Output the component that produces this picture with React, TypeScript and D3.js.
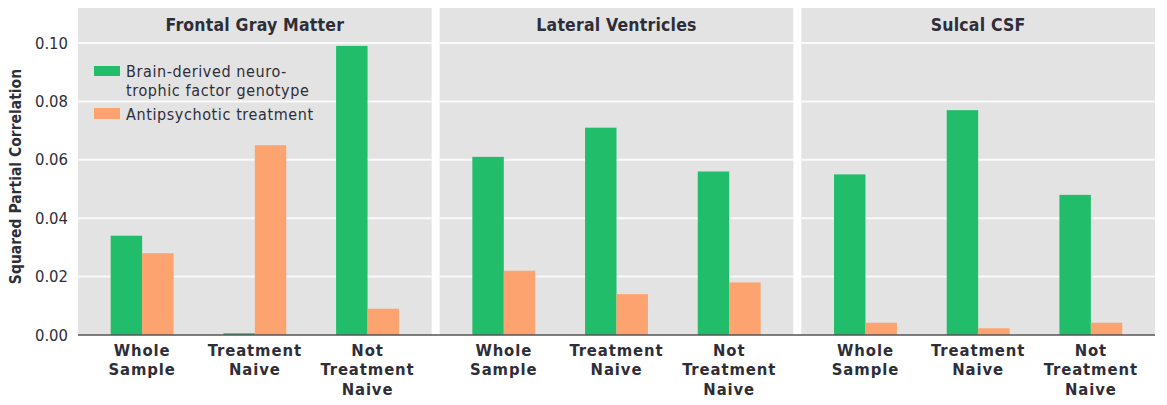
import React from "react";
import * as d3 from "d3";

const panels = ["Frontal Gray Matter", "Lateral Ventricles", "Sulcal CSF"];
const groups = ["Whole Sample", "Treatment Naive", "Not Treatment Naive"];
const groupLabelLines = [["Whole", "Sample"], ["Treatment", "Naive"], ["Not", "Treatment", "Naive"]];
const legendLines = [["Brain-derived neuro-", "trophic factor genotype"], ["Antipsychotic treatment"]];
const bdnfValues = [
  [0.034, 0.0006, 0.099],
  [0.061, 0.071, 0.056],
  [0.055, 0.077, 0.048],
];
const antipsychoticValues = [
  [0.028, 0.065, 0.009],
  [0.022, 0.014, 0.018],
  [0.0042, 0.0023, 0.0042],
];
const yTicks = [0, 0.02, 0.04, 0.06, 0.08, 0.1];

const W = 1167;
const H = 405;
const plotLeft = 78;
const plotRight = 1155;
const gap = 8;
const top = 8;
const baseY = 335;
const FONT = "'DejaVu Sans Condensed', 'DejaVu Sans', sans-serif";
const GREEN = "#21bd6b";
const ORANGE = "#fda36f";
const PANEL_BG = "#e3e3e3";
const TEXT = "#2e2e38";

export default function App() {
  const y = d3.scaleLinear().domain([0, 0.1]).range([baseY, 43]);
  const panelW = (plotRight - plotLeft - 2 * gap) / 3;
  const panelX = d3.scaleBand<number>().domain([0, 1, 2]).range([plotLeft, plotRight]).paddingInner(gap / (panelW + gap)).paddingOuter(0);
  const xGroup = d3.scaleBand<number>().domain([0, 1, 2]).range([0, panelX.bandwidth()]).paddingInner(0.442).paddingOuter(0.29);
  const xSeries = d3.scaleBand<number>().domain([0, 1]).range([0, xGroup.bandwidth()]);
  const seriesData = [bdnfValues, antipsychoticValues];
  const colors = [GREEN, ORANGE];

  return (
    <svg width={W} height={H} style={{ position: "absolute", left: 0, top: 0, background: "#fff" }} fontFamily={FONT} fontStretch="condensed">
      {panels.map((p, pi) => {
        const px = panelX(pi)!;
        const pw = panelX.bandwidth();
        return (
          <g key={p}>
            <rect x={px} y={top} width={pw} height={baseY - top} fill={PANEL_BG} />
            {yTicks.filter((t) => t > 0).map((t) => (
              <line key={t} x1={px} x2={px + pw} y1={y(t)} y2={y(t)} stroke="#fafafa" strokeWidth={2} />
            ))}
            <text x={px + pw / 2} y={top + 16.5} textAnchor="middle" dominantBaseline="central" fontSize={17.5} letterSpacing={0.2} fontWeight={700} fill={TEXT}>
              {p}
            </text>
            {groups.map((g, gi) => {
              const gx = px + xGroup(gi)!;
              const cx = gx + xGroup.bandwidth() / 2;
              return (
                <g key={g}>
                  {seriesData.map((sd, si) => (
                    <rect
                      key={si}
                      x={gx + xSeries(si)!}
                      y={y(sd[pi][gi])}
                      width={xSeries.bandwidth()}
                      height={baseY - y(sd[pi][gi])}
                      fill={colors[si]}
                    />
                  ))}
                  {groupLabelLines[gi].map((ln, li) => (
                    <text
                      key={li}
                      x={cx}
                      y={350.5 + li * 19.3}
                      textAnchor="middle"
                      dominantBaseline="central"
                      fontSize={16.5}
                      letterSpacing={0.9}
                      fontWeight={700}
                      fill={TEXT}
                    >
                      {ln}
                    </text>
                  ))}
                </g>
              );
            })}
          </g>
        );
      })}
      <line x1={plotLeft} x2={plotRight} y1={baseY} y2={baseY} stroke="#555" strokeWidth={1.5} />
      {yTicks.map((t) => (
        <text key={t} x={68} y={y(t)} textAnchor="end" dominantBaseline="central" fontSize={16.5} fill={TEXT}>
          {t.toFixed(2)}
        </text>
      ))}
      <text
        transform={`translate(15.5,176.5) rotate(-90)`}
        textAnchor="middle"
        dominantBaseline="central"
        fontSize={15.5}
        fontWeight={700}
        fill={TEXT}
      >
        Squared Partial Correlation
      </text>
      <g>
        <rect x={94} y={66} width={26} height={10} fill={GREEN} />
        <text x={126} y={71.5} dominantBaseline="central" fontSize={16} letterSpacing={0.6} fill={TEXT}>{legendLines[0][0]}</text>
        <text x={126} y={90.5} dominantBaseline="central" fontSize={16} letterSpacing={0.6} fill={TEXT}>{legendLines[0][1]}</text>
        <rect x={94} y={108} width={26} height={11} fill={ORANGE} />
        <text x={126} y={114} dominantBaseline="central" fontSize={16} letterSpacing={0.6} fill={TEXT}>{legendLines[1][0]}</text>
      </g>
    </svg>
  );
}
